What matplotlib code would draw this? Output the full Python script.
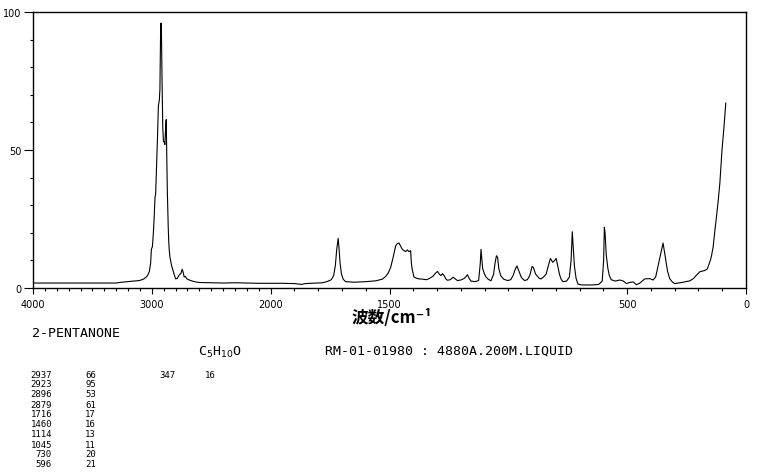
import numpy as np
import matplotlib.pyplot as plt

# spectrum (wavenumber cm-1, relative intensity)
wavenumber = [4000, 3995, 3600, 3300, 3272, 3205, 3150, 3105, 3070, 3046, 3030, 3021,
              3010, 3004, 2995, 2987, 2980, 2973, 2968, 2960, 2952, 2945, 2937, 2932,
              2927, 2923, 2919, 2914, 2908, 2902, 2896, 2890, 2884, 2879, 2875, 2870,
              2862, 2858, 2854, 2847, 2840, 2833, 2826, 2813, 2800, 2785, 2770, 2755,
              2745, 2738, 2728, 2718, 2705, 2685, 2660, 2630, 2600, 2500, 2400, 2300,
              2200, 2100, 2000, 1950, 1900, 1870, 1855, 1800, 1781, 1760, 1745, 1735,
              1728, 1722, 1716, 1712, 1708, 1702, 1695, 1685, 1650, 1600, 1558, 1530,
              1516, 1505, 1495, 1485, 1474, 1468, 1460, 1452, 1446, 1438, 1432, 1425,
              1418, 1411, 1408, 1404, 1397, 1385, 1376, 1360, 1345, 1333, 1318, 1305,
              1298, 1290, 1284, 1277, 1270, 1262, 1256, 1245, 1232, 1222, 1214, 1200,
              1185, 1172, 1165, 1157, 1140, 1125, 1118, 1115, 1112, 1108, 1100, 1094,
              1085, 1073, 1062, 1056, 1050, 1045, 1040, 1032, 1020, 1003, 990, 980,
              970, 964, 955, 945, 932, 920, 910, 900, 895, 885, 870, 862, 852, 841,
              832, 823, 818, 813, 805, 799, 792, 785, 778, 771, 755, 743, 736, 731,
              727, 722, 715, 707, 690, 670, 644, 620, 605, 599, 596, 593, 588, 581,
              575, 567, 550, 532, 518, 503, 490, 475, 461, 448, 426, 405, 391, 380,
              370, 360, 349, 343, 338, 330, 321, 310, 300, 270, 236, 220, 208, 194,
              175, 163, 150, 145, 138, 131, 124, 117, 110, 101, 93, 85]
intensity = [1.2, 1.8, 1.8, 1.8, 2.0, 2.3, 2.5, 2.7, 3.2, 4.0, 5.0, 6.0,
             9, 14, 15, 20, 26, 33, 34, 44, 55, 66, 68, 72,
             90, 96, 92, 75, 58, 53, 53, 52, 58, 61, 50, 36,
             22, 17, 14, 11, 9.5, 8, 7, 5, 3.3, 3.5, 4.7, 5.3,
             6.8, 6.0, 4.0, 4.2, 3.3, 2.9, 2.5, 2.2, 2.0, 1.9, 1.8, 1.9,
             1.8, 1.7, 1.7, 1.7, 1.6, 1.3, 1.6, 1.8, 1.9, 2.4, 3.0, 4.5,
             8, 14, 18, 14, 9, 5, 3.2, 2.3, 2.1, 2.3, 2.6, 3.2,
             4.2, 5.5, 7.5, 11, 15.3, 16, 16.3, 15, 14, 13.5, 13.2, 13.8,
             13.2, 13.5, 9, 6.5, 4.0, 3.5, 3.3, 3.2, 3.0, 3.4, 4.2, 5.5,
             6.0, 5.0, 4.5, 5.2, 4.5, 3.2, 2.8, 3.0, 3.9, 3.2, 2.7, 2.9,
             3.5, 4.8, 3.5, 2.5, 2.3, 2.7, 9, 14, 11, 7, 5, 4,
             3.2, 2.6, 5, 9, 11.7, 11, 7, 4.5, 3.2, 2.7, 3.0, 4.5,
             7, 8, 6, 3.8, 2.7, 3, 4.5, 7.8, 7.5, 5, 3.5, 3.3, 4, 5,
             8, 10.7, 10, 9.3, 10, 10.7, 8, 5, 3.2, 2.3, 2.5, 4, 10, 20.4,
             15, 8, 3.5, 1.4, 1.1, 1.1, 1.1, 1.3, 2.5, 10, 22, 20, 12, 7,
             4.5, 3, 2.5, 2.9, 2.6, 1.6, 2.0, 2.2, 1.2, 1.7, 3.3, 3.4, 2.9, 4,
             8, 12, 16.3, 13, 10, 6, 3.4, 2.2, 1.6, 2.0, 2.6, 3.5, 4.7, 5.9,
             6.3, 6.9, 10, 11.7, 15, 20.8, 26, 31.6, 38, 50, 58, 67]

peak_pos = ["2937", "2923", "2896", "2879", "1716", "1460", "1114", "1045", "730", "596"]
peak_int = ["66", "95", "53", "61", "17", "16", "13", "11", "20", "21"]
peak_pos2 = ["347"]
peak_int2 = ["16"]

xlabels = [4000, 3000, 2000, 1500, 500, 0]


# axis is compressed by half above 2000 cm-1
def fwd(w):
    w = np.asarray(w, dtype=float)
    return np.where(w > 2000, 2000 + (w - 2000) / 2, w)


def inv(p):
    p = np.asarray(p, dtype=float)
    return np.where(p > 2000, 2000 + (p - 2000) * 2, p)


W, H = 761, 477
fig = plt.figure(figsize=(W / 100, H / 100), dpi=100)
ax = fig.add_axes([33 / W, 1 - 289 / H, (746 - 33) / W, (289 - 13) / H])
ax.set_xscale('function', functions=(fwd, inv))
ax.plot(wavenumber, intensity, color='black', lw=0.8)
ax.set_xlim(4000, 0)
ax.set_ylim(0, 100)

for s in ax.spines.values():
    s.set_linewidth(1.0)

ax.set_xticks(xlabels)
ax.set_xticklabels([str(v) for v in xlabels])
ax.set_xticks([v for v in range(0, 4001, 100) if v not in xlabels], minor=True)
ax.set_yticks([0, 50, 100])
ax.set_yticks(range(10, 100, 10), minor=True)
ax.tick_params(axis='x', which='major', direction='out', length=4, width=0.8,
               labelsize=7, pad=4)
ax.tick_params(axis='x', which='minor', direction='out', length=2.5, width=0.8)
ax.tick_params(axis='y', which='major', direction='out', length=6.5, width=0.8,
               labelsize=7, pad=2)
ax.tick_params(axis='y', which='minor', direction='out', length=2, width=0.8)

fig.text(392 / W, 1 - 318 / H, "波数/cm⁻¹", ha='center', va='center',
         fontsize=12, fontweight='bold', family=['Noto Sans CJK JP', 'DejaVu Sans'])

mono = 'DejaVu Sans Mono'
fig.text(32 / W, 1 - 334 / H, "2-PENTANONE", ha='left', va='center',
         fontsize=9.5, family=mono)
fig.text(198 / W, 1 - 352 / H, "C$_5$H$_{10}$O", ha='left', va='center',
         fontsize=9.5, family=mono)
fig.text(325 / W, 1 - 351 / H, "RM-01-01980 : 4880A.200M.LIQUID", ha='left',
         va='center', fontsize=9.5, family=mono)

for i in range(len(peak_pos)):
    y = 1 - (375 + i * 10) / H
    fig.text(52 / W, y, peak_pos[i], ha='right', va='center', fontsize=6.5, family=mono)
    fig.text(85 / W, y, peak_int[i], ha='left', va='center', fontsize=6.5, family=mono)
for i in range(len(peak_pos2)):
    y = 1 - (375 + i * 10) / H
    fig.text(175 / W, y, peak_pos2[i], ha='right', va='center', fontsize=6.5, family=mono)
    fig.text(205 / W, y, peak_int2[i], ha='left', va='center', fontsize=6.5, family=mono)

fig.savefig("out.png", dpi=100)
